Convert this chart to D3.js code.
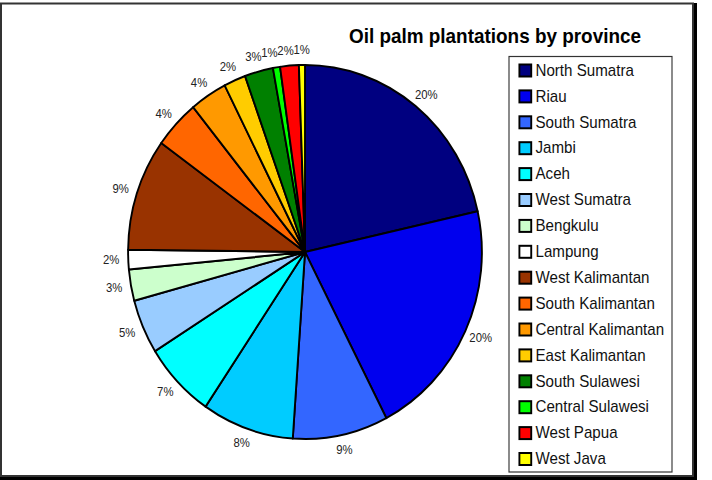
<!DOCTYPE html>
<html>
<head>
<meta charset="utf-8">
<script src="https://cdn.jsdelivr.net/npm/d3@7"></script>
<style>
  body { margin: 0; background: #fff; }
  svg { display: block; font-family: "Liberation Sans", Arial, sans-serif; }
</style>
</head>
<body>
<div id="chart"></div>
<script>
// provinces in drawing order (clockwise from 12 o'clock)
var provinces = ["North Sumatra", "Riau", "South Sumatra", "Jambi", "Aceh", "West Sumatra",
    "Bengkulu", "Lampung", "West Kalimantan", "South Kalimantan", "Central Kalimantan",
    "East Kalimantan", "South Sulawesi", "Central Sulawesi", "West Papua", "West Java"];
// slice sizes (share of area)
var shares = [21.5, 20.9, 8.7, 8.4, 6.6, 4.7, 2.7, 1.7, 9.7, 4.2, 3.4, 2.0, 2.6, 0.65, 1.7, 0.55];
// percent labels as printed on the chart
var percentLabels = [20, 20, 9, 8, 7, 5, 3, 2, 9, 4, 4, 2, 3, 1, 2, 1];
var colors = ["#000080", "#0000ee", "#3366ff", "#00ccff", "#00ffff", "#99ccff",
    "#ccffcc", "#ffffff", "#993300", "#ff6600", "#ff9900", "#ffcc00",
    "#008000", "#00ff00", "#ff0000", "#ffff00"];

function drawPie() {
    const width = 712;
    const height = 480;
    const sx = 0.946;   // the original picture is slightly squeezed sideways

    var svg = d3.select("#chart")
        .append("svg")
        .attr("width", width)
        .attr("height", height);

    // frame with shadow
    svg.append("rect")
        .attr("x", 693).attr("y", 3)
        .attr("width", 4).attr("height", 477)
        .attr("fill", "#000");
    svg.append("rect")
        .attr("x", 0).attr("y", 476)
        .attr("width", 697).attr("height", 4)
        .attr("fill", "#000");
    svg.append("rect")
        .attr("x", 1).attr("y", 3.5)
        .attr("width", 692).attr("height", 472.5)
        .attr("fill", "none")
        .attr("stroke", "#333")
        .attr("stroke-width", 2);

    var g = svg.append("g")
        .attr("transform", "scale(" + sx + ",1)");

    var cx = 305 / sx;
    var cy = 252;
    var radius = 187;

    var pie = d3.pie()
        .sort(null)
        .value(function (d) { return d; });
    var arcs = pie(shares);

    var arc = d3.arc()
        .innerRadius(0)
        .outerRadius(radius);

    var pieG = g.append("g")
        .attr("transform", "translate(" + cx + "," + cy + ")");

    pieG.selectAll("path")
        .data(arcs)
        .enter()
        .append("path")
        .attr("d", arc)
        .attr("fill", function (d, i) { return colors[i]; })
        .attr("stroke", "#000")
        .attr("stroke-width", 2)
        .attr("stroke-linejoin", "round");

    // labels sit just outside the rim, pushed out by half their box
    var labelR = radius + 9;
    var pos = arcs.map(function (d) {
        var a = (d.startAngle + d.endAngle) / 2;
        return [Math.sin(a) * (labelR + 9), -Math.cos(a) * (labelR + 6)];
    });
    // spread the crowded labels near the top so they don't sit on each other
    var minGap = 17;
    for (var i = pos.length - 2; i >= 0; i--) {
        if (pos[i][1] < -150 && pos[i + 1][1] < -150 && pos[i][0] < pos[i + 1][0]
            && pos[i + 1][0] - pos[i][0] < minGap) {
            pos[i][0] = pos[i + 1][0] - minGap;
        }
    }

    pieG.selectAll("text")
        .data(arcs)
        .enter()
        .append("text")
        .attr("transform", function (d, i) { return "translate(" + pos[i] + ")"; })
        .attr("text-anchor", "middle")
        .attr("dy", "0.35em")
        .attr("font-size", 12)
        .attr("fill", "#222")
        .text(function (d, i) { return percentLabels[i] + "%"; });

    // title
    g.append("text")
        .attr("x", 495 / sx)
        .attr("y", 43)
        .attr("text-anchor", "middle")
        .attr("font-size", 20)
        .attr("font-weight", "bold")
        .attr("fill", "#000")
        .text("Oil palm plantations by province");

    // legend
    var lx = 509 / sx;
    var ly = 56.5;
    var rowH = 25.9;
    g.append("rect")
        .attr("x", lx)
        .attr("y", ly)
        .attr("width", (672 - 509) / sx)
        .attr("height", 415.5)
        .attr("fill", "#fff")
        .attr("stroke", "#333")
        .attr("stroke-width", 1.2);

    var items = g.selectAll(".legend")
        .data(provinces)
        .enter()
        .append("g")
        .attr("class", "legend")
        .attr("transform", function (d, i) {
            return "translate(" + (lx + 11) + "," + (ly + 13.5 + i * rowH) + ")";
        });
    items.append("rect")
        .attr("x", 0)
        .attr("y", -5.5)
        .attr("width", 12.5)
        .attr("height", 12)
        .attr("fill", function (d, i) { return colors[i]; })
        .attr("stroke", "#000")
        .attr("stroke-width", 2);
    items.append("text")
        .attr("x", 17)
        .attr("y", 0)
        .attr("dy", "0.36em")
        .attr("font-size", 16)
        .attr("fill", "#111")
        .text(function (d) { return d; });
}

window.addEventListener('load', function () {
    drawPie();
});
</script>
</body>
</html>
